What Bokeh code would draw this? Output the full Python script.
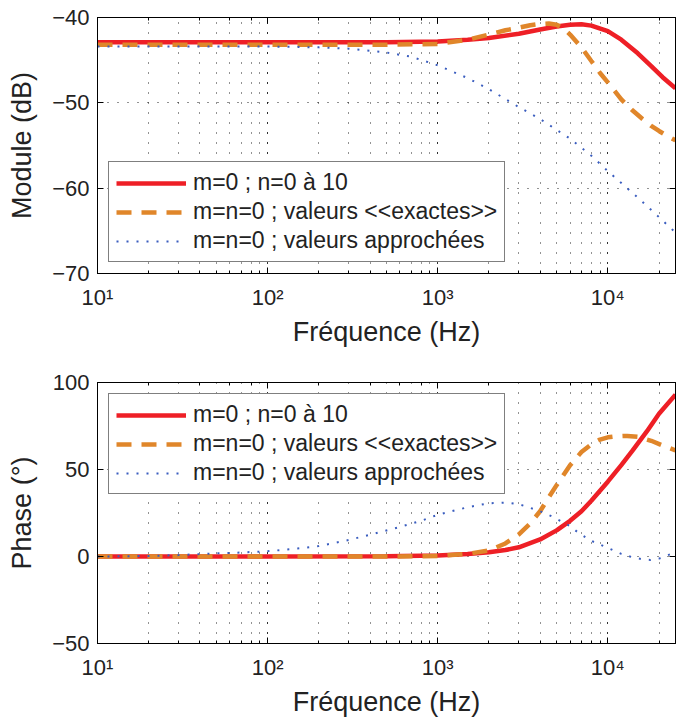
from bokeh.plotting import figure
from bokeh.layouts import column
from bokeh.models import Range1d, FixedTicker, LogAxis, LinearAxis
from bokeh.embed import file_html
from bokeh.resources import INLINE

# ---------------- data ----------------
labels = ["m=0 ; n=0 à 10", "m=n=0 ; valeurs <<exactes>>", "m=n=0 ; valeurs approchées"]

# Module (dB)
mod_red_f = [10, 100, 500, 1000, 1500, 2000, 3000, 4000, 5000, 6000, 7000, 8000, 10000, 12000, 15000, 18000, 21000, 25000]
mod_red_v = [-42.9, -42.9, -42.9, -42.8, -42.6, -42.4, -41.9, -41.4, -41.05, -40.85, -40.8, -40.95, -41.6, -42.6, -44.2, -45.7, -47.0, -48.3]

mod_org_f = [10, 100, 500, 1000, 1500, 2000, 2500, 3000, 3500, 4000, 4500, 5000, 5500, 6000, 7000, 8000, 9000, 10000, 12000, 14000, 16000, 18000, 20000, 22000, 25000]
mod_org_v = [-43.2, -43.2, -43.2, -43.1, -42.6, -42.0, -41.5, -41.2, -40.9, -40.75, -40.7, -40.85, -41.3, -42.0, -43.5, -45.1, -46.5, -47.6, -49.6, -50.9, -51.9, -52.7, -53.3, -53.8, -54.4]

mod_blu_f = [10, 50, 100, 150, 200, 300, 400, 500, 700, 1000, 1500, 2000, 3000, 4000, 6000, 8000, 10000, 15000, 20000, 25000]
mod_blu_v = [-43.4, -43.4, -43.4, -43.45, -43.5, -43.65, -43.9, -44.1, -44.6, -45.6, -47.1, -48.4, -50.5, -51.9, -54.2, -56.2, -58.0, -61.1, -63.4, -65.2]

# Phase (deg)
ph_red_f = [10, 100, 500, 1000, 1500, 2000, 2500, 3000, 4000, 5000, 6000, 7000, 8000, 10000, 12000, 14000, 17000, 20000, 25000]
ph_red_v = [0, 0, 0.1, 0.6, 1.4, 2.4, 3.7, 5.3, 9.8, 15, 20.5, 26, 32, 43, 52.5, 61, 72, 82, 93]

ph_org_f = [10, 100, 500, 1000, 1500, 2000, 2500, 3000, 3500, 4000, 4500, 5000, 6000, 7000, 8000, 9000, 10000, 11000, 13000, 15000, 18000, 21000, 25000]
ph_org_v = [0, 0, 0, 0.3, 1.5, 3.5, 7.5, 12.7, 19, 26, 34, 41, 52.5, 60, 64.5, 67.2, 68.5, 69, 69.3, 68.8, 66.5, 63.8, 61]

ph_blu_f = [10, 20, 30, 47, 70, 100, 150, 200, 300, 400, 600, 800, 1000, 1500, 2000, 2500, 3000, 3300, 4000, 4700, 6000, 6700, 8000, 9800, 12000, 14000, 16000, 17800, 20000, 23400, 25000]
ph_blu_v = [0, 0.3, 0.8, 1.7, 2.3, 3.0, 4.6, 6.0, 9.5, 12.5, 17, 20.5, 24, 28.3, 30.6, 31, 30, 28.8, 26, 23, 17.5, 13.7, 9, 5.3, 1.5, -0.5, -1.6, -2.0, -1.2, 1.4, 3.0]

x_tick_labels = {10: "10¹", 100: "10²", 1000: "10³", 10000: "10⁴"}
mod_ticks = [-70, -60, -50, -40]
ph_ticks = [-50, 0, 50, 100]

RED = "#ee1f26"
ORANGE = "#e0862a"
BLUE = "#3a5dbf"
FONT = "Liberation Sans"
TXT = "#222222"


def style_axis(ax, ticks_only=False):
    ax.axis_line_color = "black"
    ax.major_tick_in = 6
    ax.major_tick_out = 0
    ax.minor_tick_in = 3
    ax.minor_tick_out = 0
    ax.major_tick_line_color = "black"
    ax.minor_tick_line_color = "black"
    if ticks_only:
        ax.major_label_text_font_size = "1px"
        ax.major_label_text_color = None
        ax.major_label_standoff = 0
    else:
        ax.axis_label_text_font = FONT
        ax.axis_label_text_font_style = "normal"
        ax.axis_label_text_font_size = "27px"
        ax.axis_label_text_color = TXT
        ax.major_label_text_font = FONT
        ax.major_label_text_font_size = "22px"
        ax.major_label_text_color = TXT


def make_fig(h, top, bottom, yr, yticks, ylabel, series, legend_loc):
    p = figure(width=676, height=h, x_axis_type="log",
               x_range=Range1d(10, 25000), y_range=Range1d(*yr),
               output_backend="svg", toolbar_location=None,
               min_border_left=97, min_border_right=1,
               min_border_top=top, min_border_bottom=bottom)
    p.outline_line_color = "black"
    p.outline_line_width = 1
    p.background_fill_color = "white"

    for f, v, col, w, dash, lab in series:
        p.line(f, v, line_color=col, line_width=w, line_dash=dash, legend_label=lab)

    xa = p.xaxis[0]
    xa.major_label_overrides = x_tick_labels
    xa.axis_label = "Fréquence (Hz)"
    ya = p.yaxis[0]
    ya.ticker = FixedTicker(ticks=yticks)
    ya.axis_label = ylabel
    ya.major_label_overrides = {t: (str(t).replace("-", "−")) for t in yticks}
    style_axis(xa)
    style_axis(ya)
    ya.minor_tick_line_color = None
    xa.axis_label_standoff = 4
    ya.axis_label_standoff = 12
    xa.major_label_standoff = 11
    ya.major_label_standoff = 8

    # box ticks on top and right (MATLAB style)
    ta = LogAxis()
    style_axis(ta, ticks_only=True)
    p.add_layout(ta, "above")
    ra = LinearAxis(ticker=FixedTicker(ticks=yticks))
    style_axis(ra, ticks_only=True)
    ra.minor_tick_line_color = None
    p.add_layout(ra, "right")

    p.xgrid.grid_line_color = "black"
    p.xgrid.grid_line_dash = "1 9"
    p.xgrid.grid_line_alpha = 0.85
    p.xgrid.minor_grid_line_color = "black"
    p.xgrid.minor_grid_line_dash = "1 9"
    p.xgrid.minor_grid_line_alpha = 0.85
    p.ygrid.grid_line_color = "black"
    p.ygrid.grid_line_dash = "1 9"
    p.ygrid.grid_line_alpha = 0.85

    lg = p.legend[0]
    lg.location = legend_loc
    lg.margin = 11
    lg.padding = 7
    lg.spacing = 2
    lg.glyph_width = 70
    lg.glyph_height = 22
    lg.label_height = 22
    lg.label_standoff = 7
    lg.label_text_font = FONT
    lg.label_text_font_size = "23px"
    lg.label_text_color = TXT
    lg.border_line_color = "black"
    lg.border_line_width = 1
    lg.background_fill_alpha = 1
    return p


s1 = [(mod_red_f, mod_red_v, RED, 4.5, "solid", labels[0]),
      (mod_org_f, mod_org_v, ORANGE, 4.5, "15 10", labels[1]),
      (mod_blu_f, mod_blu_v, BLUE, 2, "2 8", labels[2])]
s2 = [(ph_red_f, ph_red_v, RED, 4.5, "solid", labels[0]),
      (ph_org_f, ph_org_v, ORANGE, 4.5, "15 10", labels[1]),
      (ph_blu_f, ph_blu_v, BLUE, 2, "2 8", labels[2])]

p1 = make_fig(360, 17, 87, (-70, -40), mod_ticks, "Module (dB)", s1, "bottom_left")
p2 = make_fig(359, 22, 74, (-50, 100), ph_ticks, "Phase (°)", s2, "top_left")

layout = column(p1, p2, spacing=0)
open("out.html", "w").write(file_html(layout, INLINE))
